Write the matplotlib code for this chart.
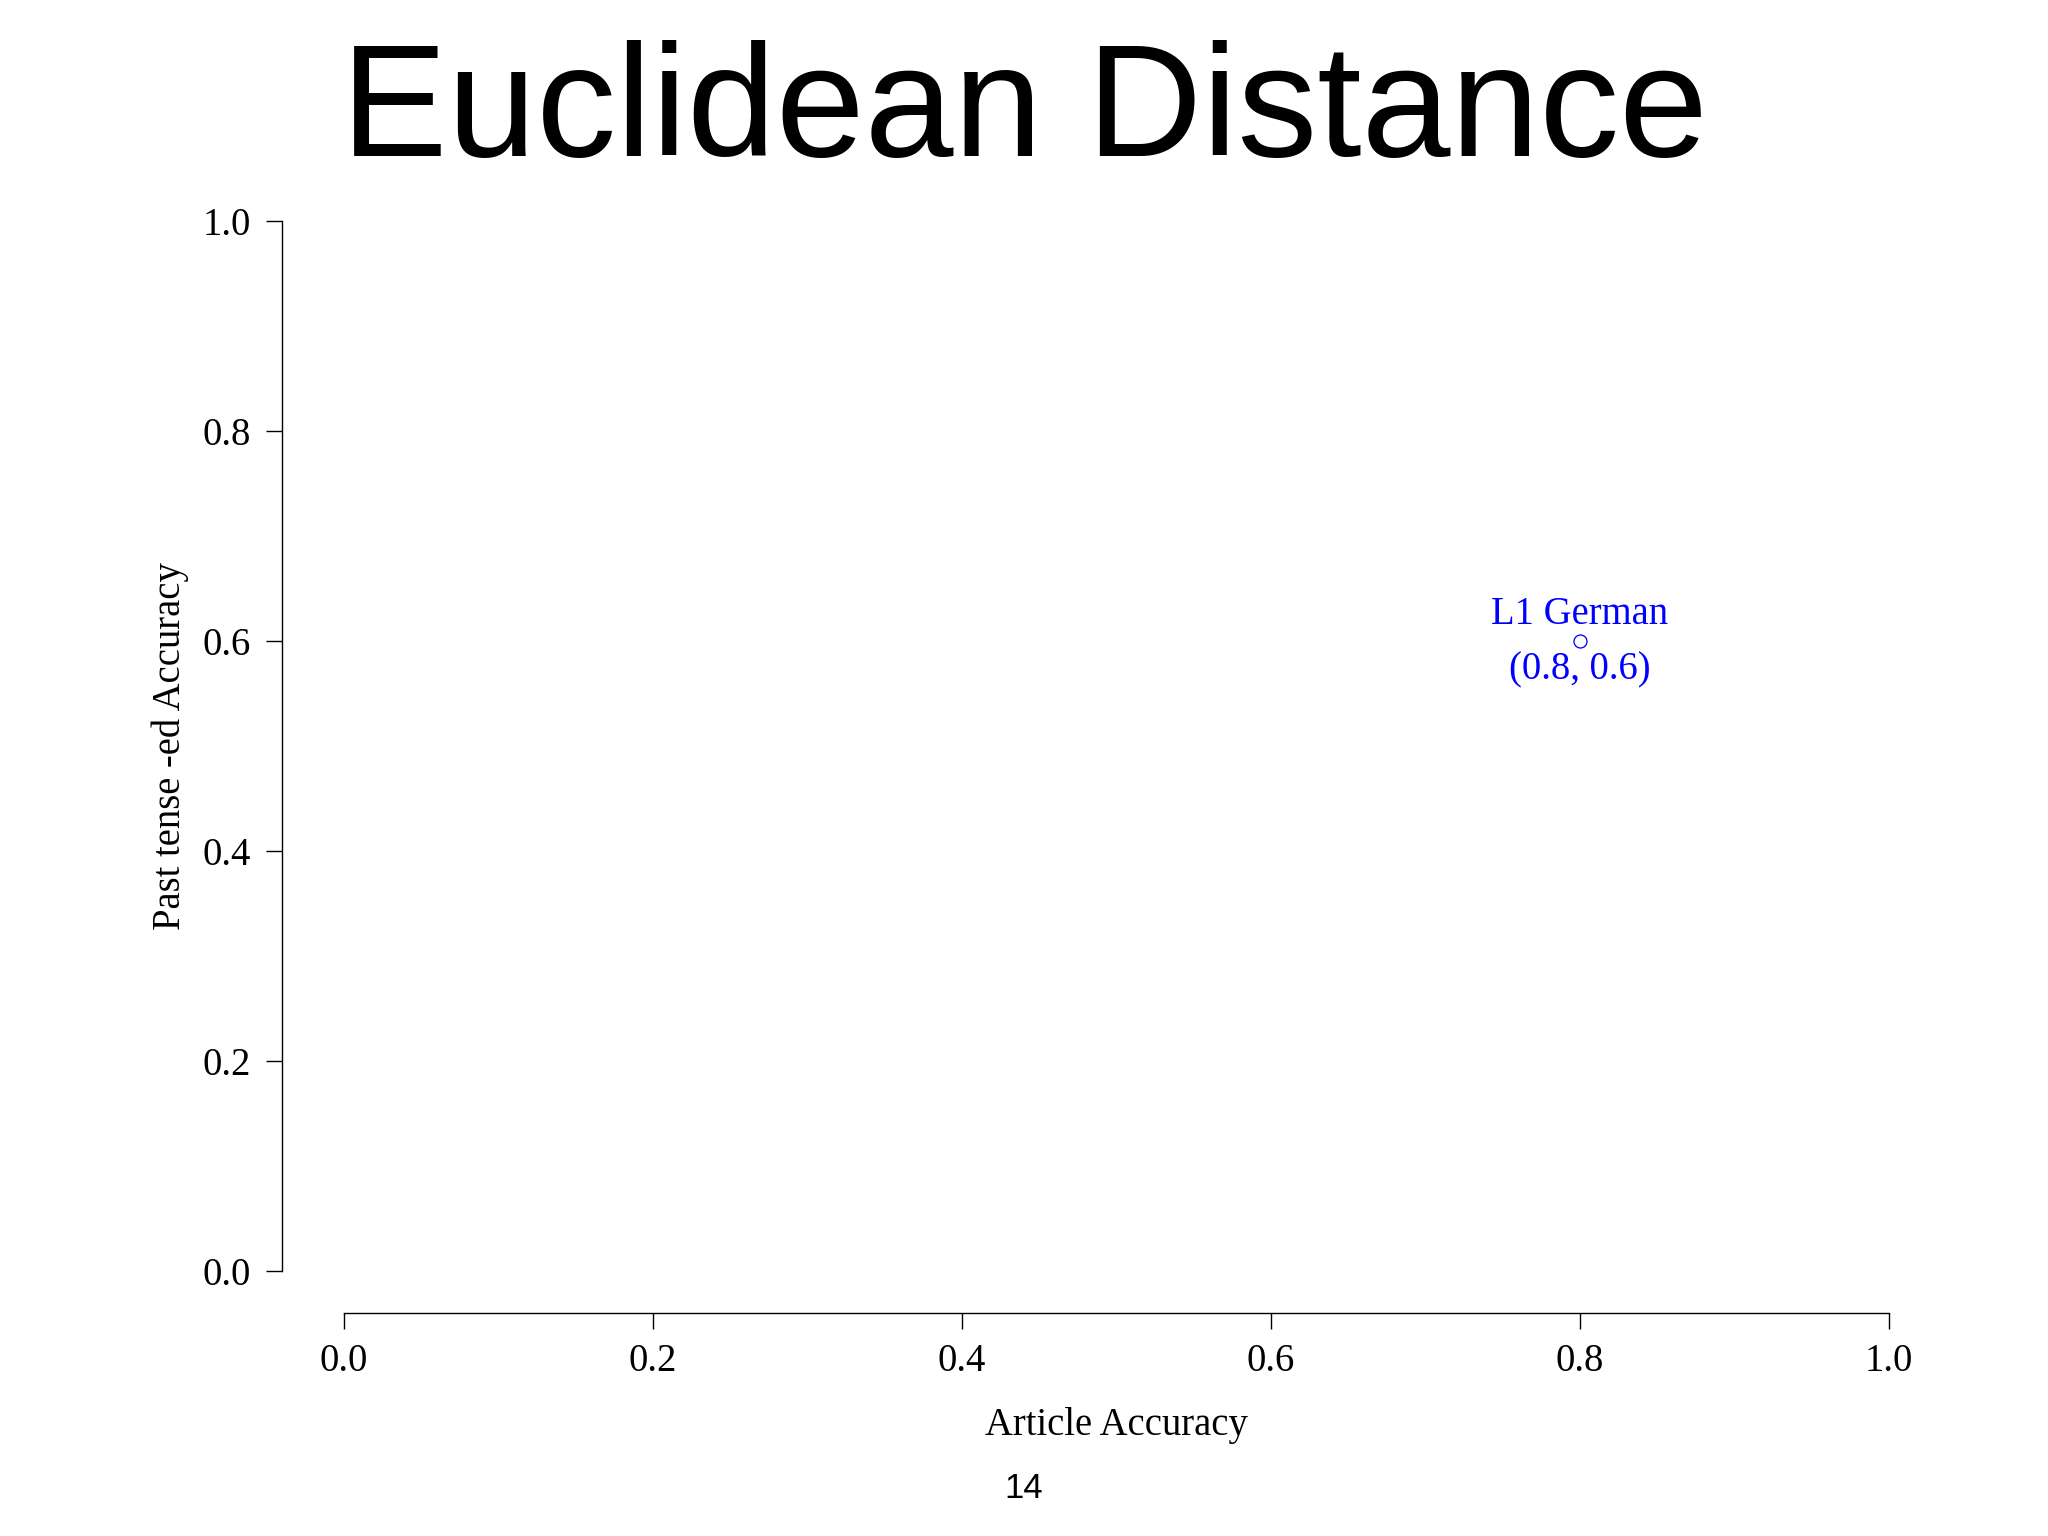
import matplotlib.pyplot as plt

# data
article_acc = [0.8]
past_ed_acc = [0.6]
group_names = ['L1 German']
ticks = [0.0, 0.2, 0.4, 0.6, 0.8, 1.0]
tick_labels = ['0.0', '0.2', '0.4', '0.6', '0.8', '1.0']

serif = 'Liberation Serif'
fs = 13.9
px = 72.0 / 200  # points per pixel at dpi 200

fig = plt.figure(figsize=(10.24, 7.68), dpi=200)
fig.patch.set_facecolor('white')
ax = fig.add_axes([344 / 2048, 1 - 1271 / 1536, 1545 / 2048, 1050 / 1536])

ax.plot(article_acc, past_ed_acc, 'o', mfc='none', mec='blue', ms=13 * px,
        mew=1.3 * px)
for x, y, name in zip(article_acc, past_ed_acc, group_names):
    ax.annotate(name, (x, y), xytext=(0, 26 * px), textcoords='offset points',
                ha='center', va='center', color='blue', family=serif, size=fs)
    ax.annotate('(%.1f, %.1f)' % (x, y), (x, y), xytext=(0, -29 * px),
                textcoords='offset points', ha='center', va='center',
                color='blue', family=serif, size=fs)

ax.set_xlim(0, 1)
ax.set_ylim(0, 1)
for s in ['top', 'right']:
    ax.spines[s].set_visible(False)
ax.spines['left'].set_position(('outward', 62 * px))
ax.spines['bottom'].set_position(('outward', 42 * px))
ax.spines['left'].set_bounds(0, 1)
ax.spines['bottom'].set_bounds(0, 1)
for s in ['left', 'bottom']:
    ax.spines[s].set_linewidth(1.4 * px)
ax.set_xticks(ticks)
ax.set_yticks(ticks)
ax.set_xticklabels(tick_labels, family=serif, size=fs)
ax.set_yticklabels(tick_labels, family=serif, size=fs)
ax.tick_params(length=16 * px, width=1.4 * px, pad=15 * px)
ax.tick_params(axis='x', pad=14 * px)

ax.set_xlabel('Article Accuracy', family=serif, size=fs, labelpad=27 * px)
ax.set_ylabel('Past tense -ed Accuracy', family=serif, size=fs, labelpad=14 * px)

fig.text(0.5, 1 - 114 / 1536, 'Euclidean Distance', ha='center', va='center',
         family='Liberation Sans', size=57.5)
fig.text(0.5, 1 - 1489 / 1536, '14', ha='center', va='center',
         family='Liberation Sans', size=12.5)

fig.savefig('out.png', dpi=200)
